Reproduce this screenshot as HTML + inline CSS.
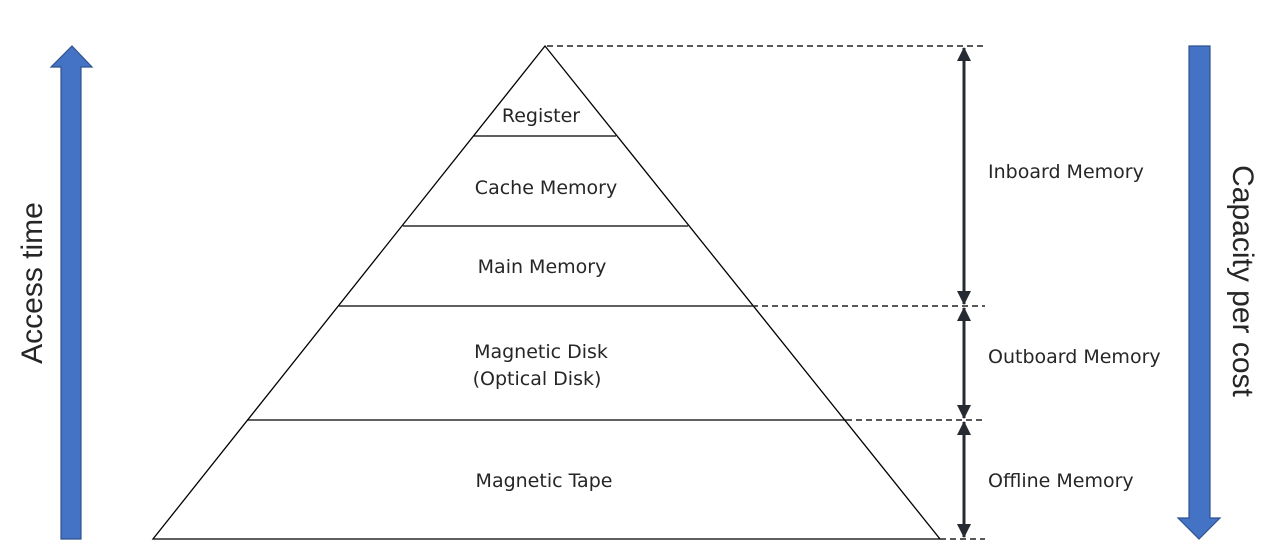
<!DOCTYPE html>
<html><head><style>
body{margin:0;background:#fff;}
svg{display:block;}
text{font-family:"DejaVu Sans",sans-serif;fill:#262626;}
</style></head><body>
<svg width="1277" height="557" viewBox="0 0 1277 557" xmlns="http://www.w3.org/2000/svg">
<defs>
<marker id="ah" markerWidth="14" markerHeight="14" refX="13" refY="7" orient="auto-start-reverse" markerUnits="userSpaceOnUse" viewBox="0 0 14 14">
<path d="M0,0 L14,7 L0,14 z" fill="#262A33"/>
</marker>
</defs>
<polygon points="545,46 153,539 940,539" fill="none" stroke="#000" stroke-width="1.3"/>
<line x1="474" y1="136" x2="616" y2="136" stroke="#000" stroke-width="1.3"/>
<line x1="403" y1="226" x2="688" y2="226" stroke="#000" stroke-width="1.3"/>
<line x1="339" y1="306" x2="752" y2="306" stroke="#000" stroke-width="1.3"/>
<line x1="247" y1="420" x2="846" y2="420" stroke="#000" stroke-width="1.3"/>
<g stroke="#222" stroke-width="1.5" stroke-dasharray="6,4">
<line x1="547" y1="46" x2="985" y2="46"/>
<line x1="752" y1="306" x2="985" y2="306"/>
<line x1="846" y1="420" x2="985" y2="420"/>
<line x1="940" y1="539" x2="985" y2="539"/>
</g>
<g stroke="#262A33" stroke-width="3">
<line x1="964" y1="48" x2="964" y2="304" marker-start="url(#ah)" marker-end="url(#ah)"/>
<line x1="964" y1="308" x2="964" y2="418" marker-start="url(#ah)" marker-end="url(#ah)"/>
<line x1="964" y1="422" x2="964" y2="537" marker-start="url(#ah)" marker-end="url(#ah)"/>
</g>
<polygon points="72,46 92,67 81,67 81,539 61,539 61,67 51,67" fill="#4472C4" stroke="#2F528F" stroke-width="1.2"/>
<polygon points="1189,46 1210,46 1210,518 1220,518 1199,539 1178,518 1189,518" fill="#4472C4" stroke="#2F528F" stroke-width="1.2"/>
<g font-size="19" text-anchor="middle">
<text x="541" y="122">Register</text>
<text x="546" y="194">Cache Memory</text>
<text x="542" y="273">Main Memory</text>
<text x="541" y="358">Magnetic Disk</text>
<text x="537" y="385">(Optical Disk)</text>
<text x="544" y="487">Magnetic Tape</text>
</g>
<g font-size="19">
<text x="988" y="178">Inboard Memory</text>
<text x="988" y="363">Outboard Memory</text>
<text x="988" y="487">Offline Memory</text>
</g>
<text font-size="30" text-anchor="middle" style="font-family:'Liberation Sans',sans-serif" transform="translate(42,283) rotate(-90)">Access time</text>
<text font-size="30" text-anchor="middle" style="font-family:'Liberation Sans',sans-serif" transform="translate(1233,281) rotate(90)">Capacity per cost</text>
</svg>
</body></html>
